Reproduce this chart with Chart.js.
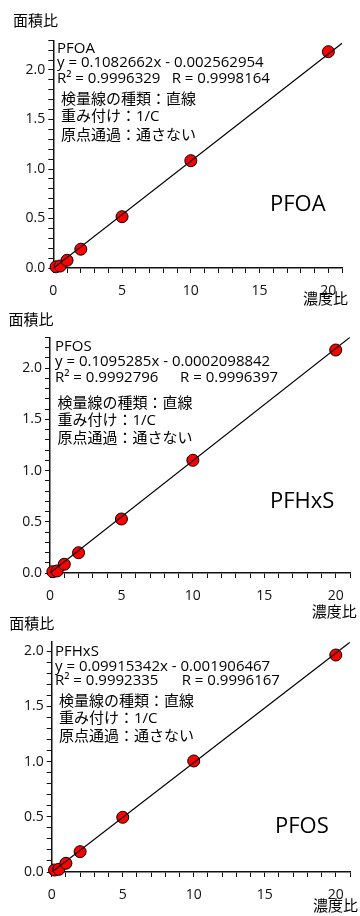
<!DOCTYPE html>
<html><head><meta charset="utf-8">
<script src="https://cdn.jsdelivr.net/npm/chart.js@4.4.1/dist/chart.umd.min.js"></script>
<style>
html,body{margin:0;padding:0;background:#fff;width:360px;height:916px;overflow:hidden;}
canvas{position:absolute;left:0;top:0;}
</style></head><body>
<canvas id="c1" width="360" height="916"></canvas>
<canvas id="c2" width="360" height="916"></canvas>
<canvas id="c3" width="360" height="916"></canvas>
<script>
// ---- data ----
const conc = [0.2, 0.5, 1, 2, 5, 10, 20];
const areaPanel1 = [0.012, 0.02, 0.078, 0.19, 0.518, 1.084, 2.185];
const areaPanel2 = [0.013, 0.02, 0.085, 0.198, 0.527, 1.10, 2.176];
const areaPanel3 = [0.018, 0.024, 0.079, 0.184, 0.495, 1.005, 1.964];
// calibration lines (end points from the equations shown)
const fitX = [0, 21];
const fitPanel1 = [-0.0026, 2.271];
const fitPanel2 = [-0.0002, 2.300];
const fitPanel3 = [-0.0019, 2.080];
// tick labels
const xMajorValues = [0, 5, 10, 15, 20];
const xTickLabels = ['0', '5', '10', '15', '20'];
const yMajorTenths = [0, 5, 10, 15, 20];
const yTickLabels = ['0.0', '0.5', '1.0', '1.5', '2.0'];
// texts
const yAxisTitle = '面積比';
const xAxisTitle = '濃度比';
const headerNames = ['PFOA', 'PFOS', 'PFHxS'];
const equations = ['y = 0.1082662x - 0.002562954', 'y = 0.1095285x - 0.0002098842', 'y = 0.09915342x - 0.001906467'];
const r2Texts = ['R² = 0.9996329', 'R² = 0.9992796', 'R² = 0.9992335'];
const rTexts = ['R = 0.9998164', 'R = 0.9996397', 'R = 0.9996167'];
const infoLines = ['検量線の種類：直線', '重み付け：1/C', '原点通過：通さない'];
const bigLabels = ['PFOA', 'PFHxS', 'PFOS'];

const FAM = '"Open Sans", "Noto Sans CJK JP", sans-serif';

// ---- layout (pixels) ----
const panels = [
  { id:'c1', area: areaPanel1, fit: fitPanel1, xmax: 21, ymax: 2.3,
    box:{left:53.3, right:342.1, top:40.3, bottom:268},
    t:{ ytitle:[13,22], head:[57,48.3,63,78.5], rx:171.7, info:[61,100,117,136], big:[270,205], xtitle:[303,300] } },
  { id:'c2', area: areaPanel2, fit: fitPanel2, xmax: 21, ymax: 2.3,
    box:{left:50, right:354.5, top:337.3, bottom:573},
    t:{ ytitle:[8.5,320.7], head:[55,346.7,361.7,377.3], rx:180, info:[57.5,403.3,421,439], big:[270,501.7], xtitle:[311.7,612.7] } },
  { id:'c3', area: areaPanel3, fit: fitPanel3, xmax: 21, ymax: 2.08,
    box:{left:51.7, right:354.1, top:642.2, bottom:872},
    t:{ ytitle:[9.3,625], head:[55,651.7,666.7,681], rx:181.7, info:[59,701.7,718.3,736.7], big:[275,826.7], xtitle:[313,907] } }
];

const XAXIS_H = 30;

panels.forEach((p, k) => {
  const items = [];
  const f15 = '15px ' + FAM;
  items.push({text: yAxisTitle, x:p.t.ytitle[0], y:p.t.ytitle[1], font:f15});
  items.push({text: headerNames[k], x:p.t.head[0], y:p.t.head[1], font:f15});
  items.push({text: equations[k], x:p.t.head[0], y:p.t.head[2], font:f15});
  items.push({text: r2Texts[k], x:p.t.head[0], y:p.t.head[3], font:f15});
  items.push({text: rTexts[k], x:p.t.rx, y:p.t.head[3], font:f15});
  infoLines.forEach((s, i) => items.push({text:s, x:p.t.info[0], y:p.t.info[i+1], font:f15}));
  items.push({text: bigLabels[k], x:p.t.big[0], y:p.t.big[1], font:'22px ' + FAM});
  items.push({text: xAxisTitle, x:p.t.xtitle[0], y:p.t.xtitle[1], font:f15});

  const textPlugin = {
    id: 'texts' + k,
    afterDraw(chart) {
      const ctx = chart.ctx;
      ctx.save();
      ctx.fillStyle = '#000';
      ctx.textBaseline = 'middle';
      ctx.textAlign = 'left';
      items.forEach(t => { ctx.font = t.font; ctx.fillText(t.text, t.x, t.y); });
      ctx.restore();
    }
  };

  const yTicks = [];
  for (let i = 0; i <= Math.floor(p.ymax * 10 + 1e-9); i++) yTicks.push(i / 10);
  const xTicks = [];
  for (let i = 0; i <= p.xmax; i++) xTicks.push(i);

  new Chart(document.getElementById(p.id), {
    type: 'scatter',
    data: {
      datasets: [
        { type:'line', data: fitX.map((x,i)=>({x, y:p.fit[i]})), borderColor:'#000', borderWidth:1.2,
          pointRadius:0, showLine:true, fill:false, order:0 },
        { type:'scatter', data: conc.map((x,i)=>({x, y:p.area[i]})), backgroundColor:'#ff0000',
          borderColor:'#000', borderWidth:1, pointRadius:6, order:1, clip:false }
      ]
    },
    options: {
      responsive:false, animation:false, devicePixelRatio:1,
      layout:{ padding:{ left:0, top:p.box.top, right:360 - p.box.right, bottom:916 - p.box.bottom - XAXIS_H } },
      plugins:{ legend:{display:false}, tooltip:{enabled:false} },
      events: [],
      scales:{
        x:{ type:'linear', min:0, max:p.xmax,
          afterBuildTicks: s => { s.ticks = xTicks.map(v=>({value:v})); },
          afterFit: s => { s.height = XAXIS_H; },
          ticks:{ autoSkip:false, maxRotation:0, padding:10, color:'#111', font:{family:FAM, size:14},
            callback: v => { const i = xMajorValues.indexOf(Math.round(v)); return i >= 0 ? xTickLabels[i] : ''; } },
          grid:{ display:true, drawOnChartArea:false, drawTicks:true, tickLength:5, tickColor:'#111', tickWidth:1 },
          border:{ display:true, color:'#111', width:1.5 }
        },
        y:{ type:'linear', min:0, max:p.ymax,
          afterBuildTicks: s => { s.ticks = yTicks.map(v=>({value:v})); },
          afterFit: s => { s.width = p.box.left; },
          ticks:{ autoSkip:false, padding:3, color:'#111', font:{family:FAM, size:14},
            callback: v => { const i = yMajorTenths.indexOf(Math.round(v*10)); return i >= 0 ? yTickLabels[i] : ''; } },
          grid:{ display:true, drawOnChartArea:false, drawTicks:true, tickLength:5, tickColor:'#111', tickWidth:1 },
          border:{ display:true, color:'#111', width:1.5 }
        }
      }
    },
    plugins:[textPlugin]
  });
});
</script>
</body></html>
